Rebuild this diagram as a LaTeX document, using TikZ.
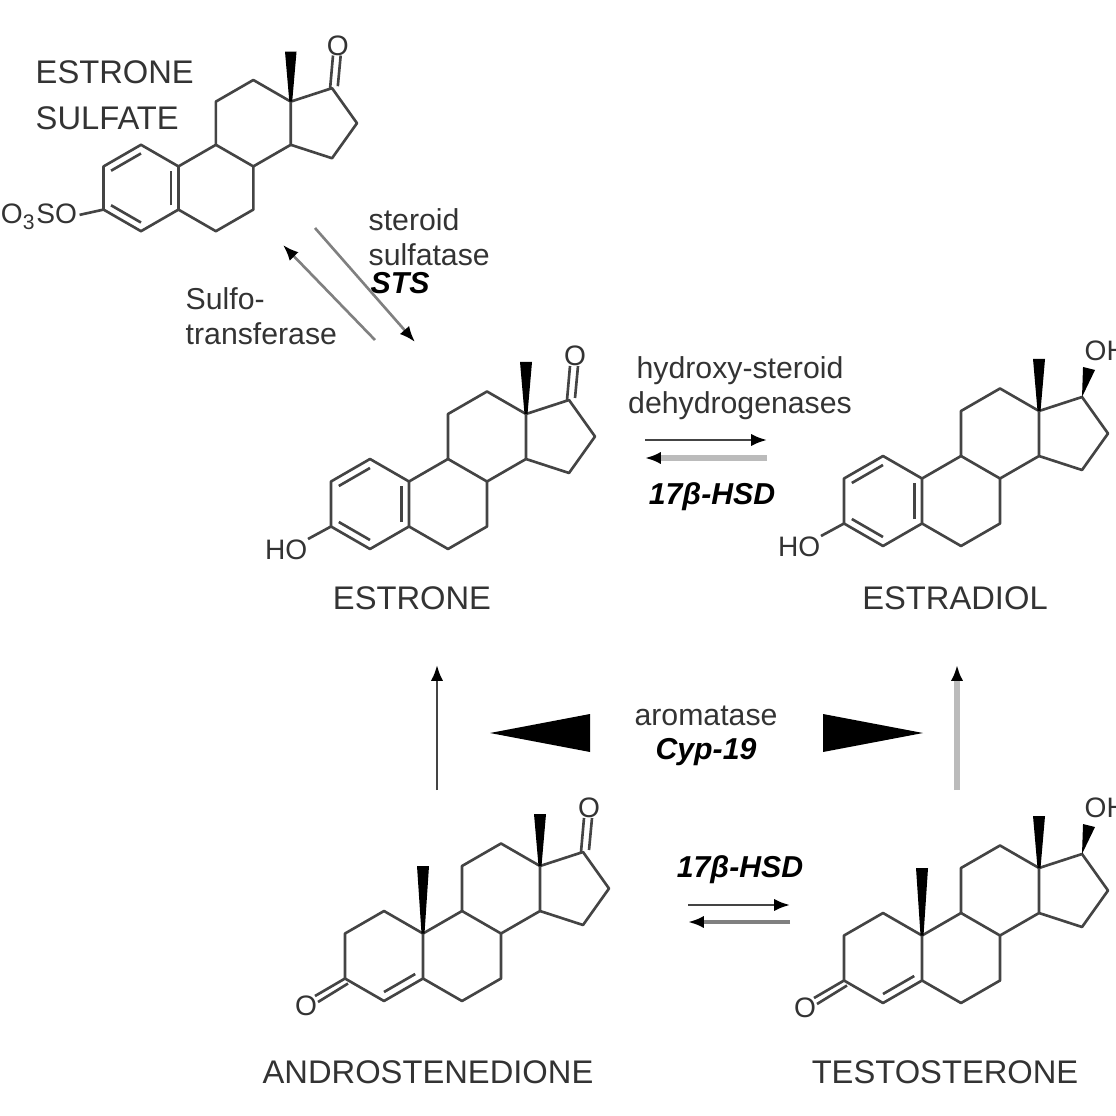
\documentclass[tikz,border=0pt]{standalone}
\usepackage{fontspec}
\setmainfont{Liberation Sans}
\usetikzlibrary{calc,arrows.meta}
\definecolor{bondc}{HTML}{444444}
\definecolor{txtc}{HTML}{333333}
\definecolor{lgray}{HTML}{BBBBBB}
\tikzset{
  bond/.style={draw=bondc,line width=0.75pt},
  atom/.style={font=\fontsize{8}{9}\selectfont,text=txtc,inner sep=0pt},
  cname/.style={font=\fontsize{9.3}{10}\selectfont,text=txtc,inner sep=0pt},
  enz/.style={font=\fontsize{8.6}{10}\selectfont,text=txtc,inner sep=0pt,align=center},
  enzb/.style={font=\fontsize{8.6}{10}\selectfont\bfseries\itshape,inner sep=0pt},
  rxn/.style={line width=0.75pt,-{Latex[length=4.5pt,width=3.5pt,color=black]}},
}
\newcommand\skelcore{%
  \coordinate (c1) at (0,-45); \coordinate (c2) at (-39,-22.5);
  \coordinate (c3) at (-39,22.5); \coordinate (c4) at (0,45);
  \coordinate (c5) at (39,22.5); \coordinate (c10) at (39,-22.5);
  \coordinate (c6) at (78,45); \coordinate (c7) at (117,22.5);
  \coordinate (c8) at (117,-22.5); \coordinate (c9) at (78,-45);
  \coordinate (c11) at (78,-90); \coordinate (c12) at (117,-112.5);
  \coordinate (c13) at (156,-90); \coordinate (c14) at (156,-45);
  \coordinate (c15) at (199,-31); \coordinate (c16) at (225,-67.5);
  \coordinate (c17) at (199,-104);
  \draw[bond,line join=round] (c1)--(c2)--(c3)--(c4)--(c5)--(c10)--cycle;
  \draw[bond,line join=round] (c5)--(c6)--(c7)--(c8)--(c9)--(c10);
  \draw[bond,line join=round] (c9)--(c11)--(c12)--(c13)--(c14)--(c8);
  \draw[bond,line join=round] (c13)--(c17)--(c16)--(c15)--(c14);
  \fill[black] (154.5,-90) -- (150,-142) -- (162,-142) -- (157.5,-90) -- cycle;
}
\newcommand\inner[2]{\draw[bond] ($(0,0)!0.8!(#1)$) -- ($(0,0)!0.8!(#2)$);}
\newcommand\aromA{\inner{c1}{c2}\inner{c3}{c4}\inner{c5}{c10}}
\newcommand\ketone{%
  \draw[bond] (197,-104) -- (200,-138); \draw[bond] (205,-106) -- (208,-138);
  \node[atom] (o17) at (205,-148) {O};}
\newcommand\hydroxyl{%
  \fill[black] (c17) -- (200,-134) -- (212,-131) -- cycle;
  \node[atom,anchor=west] (oh17) at (201,-150) {OH};}
\newcommand\enoneA{%
  \fill[black] (37.5,-22.5) -- (33,-90) -- (45,-90) -- (40.5,-22.5) -- cycle;
  \inner{c4}{c5}
  \draw[bond] (c3) -- (-69,40); \draw[bond] ($(c3)+(3,5)$) -- (-66,46);
  \node[atom] (o3) at (-78,50) {O};}
\begin{document}
\begin{tikzpicture}[x=0.01cm,y=-0.01cm]
\useasboundingbox (0,0) rectangle (1116,1116);
% estrone sulfate
\begin{scope}[shift={(141,188)},scale=0.96]
  \skelcore \aromA \ketone
  \draw[bond] (c3) -- (-64,28);
  \node[atom,anchor=east] (so3) at (-66,30) {O\textsubscript{3}SO};
\end{scope}
\node[cname,anchor=west,align=left] (esname) at (35,95) {ESTRONE\\[3pt]SULFATE};
% estrone
\begin{scope}[shift={(370,504)}]
  \skelcore \aromA \ketone
  \draw[bond] (c3) -- (-62,35);
  \node[atom,anchor=east] (ho1) at (-62,46) {HO};
\end{scope}
\node[cname] (estrone) at (412,598) {ESTRONE};
% estradiol
\begin{scope}[shift={(883,501)}]
  \skelcore \aromA \hydroxyl
  \draw[bond] (c3) -- (-62,35);
  \node[atom,anchor=east] (ho2) at (-62,46) {HO};
\end{scope}
\node[cname] (estradiol) at (955,598) {ESTRADIOL};
% androstenedione
\begin{scope}[shift={(384,956)}]
  \skelcore \enoneA \ketone
\end{scope}
\node[cname] (andro) at (428,1072) {ANDROSTENEDIONE};
% testosterone
\begin{scope}[shift={(883,958)}]
  \skelcore \enoneA \hydroxyl
\end{scope}
\node[cname] (testo) at (945,1072) {TESTOSTERONE};
% sulfatase arrows
\coordinate (s1a) at (315,228); \coordinate (s1b) at (415,342);
\coordinate (s2a) at (375,340); \coordinate (s2b) at (283,245);
\draw[rxn,draw=gray] (s1a) -- (s1b);
\draw[rxn,draw=gray] (s2a) -- (s2b);
\node[enz,anchor=west,align=left] (sts) at (368,237) {steroid\\sulfatase};
\node[enzb,anchor=west] (stsb) at (370,283) {STS};
\node[enz,anchor=west,align=left] (sult) at (185,316) {Sulfo-\\transferase};
% hydroxysteroid dehydrogenase
\node[enz] (hsd) at (740,388) {hydroxy-steroid\\dehydrogenases};
\coordinate (h1a) at (645,440); \coordinate (h1b) at (767,440);
\coordinate (h2a) at (767,458); \coordinate (h2b) at (645,458);
\draw[rxn,draw=bondc] (h1a) -- (h1b);
\draw[rxn,draw=lgray,line width=1.5pt] (h2a) -- (h2b);
\node[enzb] (hsd1) at (712,497) {17β-HSD};
% aromatase
\coordinate (u1a) at (437,790); \coordinate (u1b) at (437,665);
\coordinate (u2a) at (957,790); \coordinate (u2b) at (957,665);
\draw[rxn,draw=bondc] (u1a) -- (u1b);
\draw[rxn,draw=lgray,line width=1.5pt] (u2a) -- (u2b);
\fill[black] (490,733) -- (590,714) -- (590,752) -- cycle;
\fill[black] (923,733) -- (823,714) -- (823,752) -- cycle;
\node[enz] (arom) at (706,716) {aromatase};
\node[enzb] (cyp) at (706,752) {Cyp-19};
% bottom 17b-HSD
\node[enzb] (hsd2) at (740,870) {17β-HSD};
\coordinate (b1a) at (688,905); \coordinate (b1b) at (790,905);
\coordinate (b2a) at (790,922); \coordinate (b2b) at (688,922);
\draw[rxn,draw=bondc] (b1a) -- (b1b);
\draw[rxn,draw=gray,line width=1.2pt] (b2a) -- (b2b);
\end{tikzpicture}
\end{document}
